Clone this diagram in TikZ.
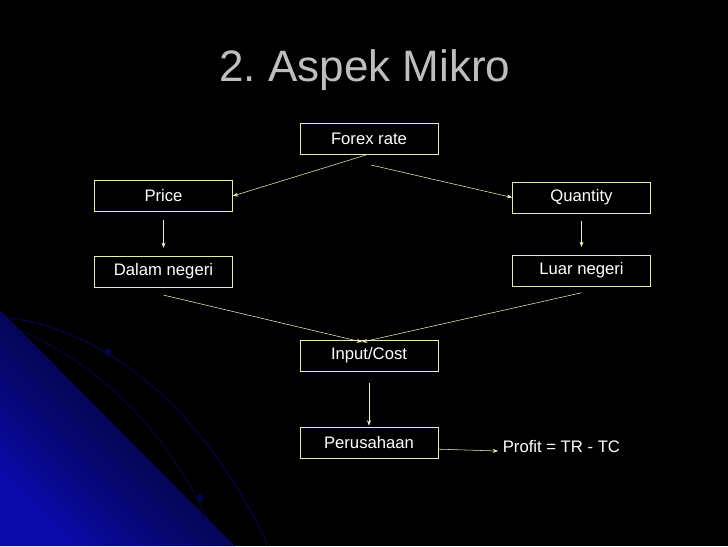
\documentclass[tikz,border=0pt]{standalone}
\usepackage{fontspec}
\setmainfont{Liberation Sans}
\usetikzlibrary{arrows.meta,positioning}
\definecolor{boxline}{RGB}{235,235,170}
\definecolor{titlegrey}{RGB}{190,190,190}
\definecolor{deepblue}{RGB}{10,10,170}
\frenchspacing
\begin{document}
\begin{tikzpicture}[
    x = 0.75pt, y = -0.75pt, % one pixel of the slide
    >={Stealth[length=4pt,width=3pt]},
    semithick
    ]

    \tikzset{
    box/.style = {draw = boxline, thin, fill = black, text = white,
      minimum width = 103.5pt, minimum height = 23pt, inner sep = 1pt,
      font = \fontsize{12.5}{14}\selectfont},
    link/.style = {->, draw = boxline!80!white, thin}
    }
    % background and blue corner
    \fill[black] (0,0) rectangle (728,546);
    \shade[left color = black, right color = deepblue, shading angle = -45]
      (0,310) -- (235,546) -- (0,546) -- cycle;
    \draw[deepblue!45!black, thick] (10,318) .. controls (130,335) and (220,440) .. (268,546);
    \draw[deepblue!45!black] (20,330) .. controls (110,370) and (170,440) .. (208,520);
    \fill[deepblue!40!black] (108,352) circle (4);
    \fill[deepblue!40!black] (200,498) circle (4);

    \node[text = titlegrey, font = \fontsize{33}{38}\selectfont] (title) at (365,70) {2. Aspek Mikro};

    \node[box] (forex) at (369,138.5) {Forex rate};
    \node[box] (price) at (163.5,196) {Price};
    \node[box] (qty) at (581.5,197.5) {Quantity};
    \node[box] (dalam) at (163.5,271.5) {Dalam negeri};
    \node[box] (luar) at (581.5,270.5) {Luar negeri};
    \node[box] (input) at (369,355.5) {Input/Cost};
    \node[box] (firm) at (369,442.5) {Perusahaan};
    \node[text = white, font = \fontsize{12.5}{14}\selectfont, anchor = west] (profit) at (498,447) {Profit = TR - TC};

    \coordinate (f1) at (366,155);
    \coordinate (f2) at (371,165);
    \coordinate (join) at (362,342);
    \draw[link] (f1) -- (price.east);
    \draw[link] (f2) -- (qty.west);
    \draw[link] ([yshift = -6pt]price.south) -- ([yshift = 6pt]dalam.north);
    \draw[link] ([yshift = -6pt]qty.south) -- ([yshift = 6pt]luar.north);
    \draw[link] ([yshift = -6pt]dalam.south) -- (join);
    \draw[link] ([yshift = -5pt]luar.south) -- (join);
    \draw[link] ([yshift = -9pt]input.south) -- ([yshift = 1pt]firm.north);
    \draw[link] ([yshift = -5pt]firm.east) -- ([yshift = -3pt]profit.west);
\end{tikzpicture}
\end{document}
